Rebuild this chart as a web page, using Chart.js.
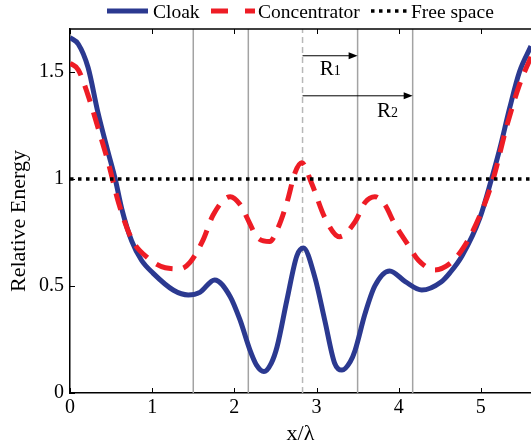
<!DOCTYPE html>
<html><head><meta charset="utf-8">
<script src="https://cdn.jsdelivr.net/npm/chart.js@4.4.1/dist/chart.umd.min.js"></script>
<style>html,body{margin:0;padding:0;background:#fff;}#wrap{width:531px;height:447px;}</style>
</head><body><div id="wrap"><canvas id="c" width="531" height="447"></canvas></div>
<script>
// ---- data ----
const seriesNames = ['Cloak', 'Concentrator', 'Free space'];
const cloakX = [0, 0.10, 0.22, 0.34, 0.46, 0.55, 0.63, 0.75, 0.87, 1.01, 1.26, 1.44, 1.58, 1.76, 1.95, 2.07, 2.19, 2.27, 2.36, 2.45, 2.52, 2.64, 2.76, 2.84, 2.98, 3.10, 3.22, 3.31, 3.41, 3.47, 3.59, 3.71, 3.89, 4.08, 4.28, 4.52, 4.62, 4.77, 4.99, 5.13, 5.23, 5.35, 5.47, 5.61];
const cloakY = [1.66, 1.63, 1.52, 1.31, 1.13, 1.00, 0.86, 0.71, 0.62, 0.56, 0.48, 0.458, 0.47, 0.528, 0.45, 0.34, 0.20, 0.13, 0.10, 0.14, 0.216, 0.435, 0.64, 0.677, 0.54, 0.34, 0.14, 0.107, 0.146, 0.20, 0.37, 0.50, 0.57, 0.52, 0.481, 0.52, 0.56, 0.64, 0.82, 1.00, 1.14, 1.33, 1.50, 1.62];
const concX = [0, 0.10, 0.22, 0.34, 0.47, 0.59, 0.75, 0.95, 1.16, 1.34, 1.46, 1.62, 1.74, 1.95, 2.07, 2.19, 2.27, 2.43, 2.53, 2.64, 2.74, 2.82, 2.94, 3.10, 3.28, 3.47, 3.59, 3.71, 3.83, 3.95, 4.10, 4.24, 4.44, 4.64, 4.79, 4.99, 5.15, 5.31, 5.47, 5.61];
const concY = [1.54, 1.51, 1.39, 1.24, 1.07, 0.89, 0.72, 0.63, 0.585, 0.58, 0.61, 0.715, 0.83, 0.917, 0.88, 0.79, 0.73, 0.707, 0.77, 0.89, 1.03, 1.075, 0.98, 0.82, 0.73, 0.80, 0.89, 0.917, 0.88, 0.79, 0.70, 0.62, 0.575, 0.61, 0.68, 0.83, 1.00, 1.24, 1.44, 1.57];
const freeX = [0, 5.61];
const freeY = [1, 1];
const xTicks = [0, 1, 2, 3, 4, 5];
const yTicks = [0, 0.5, 1, 1.5];
const xRange = [0, 5.61];
const yRange = [0, 1.7];
const boundaryX = [1.50, 2.17, 3.50, 4.17];
const centerX = 2.83;
const arrowEndX = [3.50, 4.17];
const arrowY = [1.575, 1.388];
const arrowMain = ['R', 'R'];
const arrowSub = ['1', '2'];
const arrowLabelX = [3.04, 3.735];
const arrowLabelY = [1.486, 1.29];
const xTitle = 'x/λ';
const yTitle = 'Relative Energy';

const pts = (xs, ys) => xs.map((x, i) => ({x: x, y: ys[i]}));
const SERIF = '"Liberation Serif", "DejaVu Serif", serif';

const datasets = [
  {label: seriesNames[2], data: pts(freeX, freeY), borderColor: '#000000', borderWidth: 3.5, borderDash: [3.5, 4.5], order: 0},
  {label: seriesNames[1], data: pts(concX, concY), borderColor: '#ee1c25', borderWidth: 5, borderDash: [17, 11], cubicInterpolationMode: 'monotone', order: 1},
  {label: seriesNames[0], data: pts(cloakX, cloakY), borderColor: '#2b3990', borderWidth: 5, cubicInterpolationMode: 'monotone', order: 2}
];
boundaryX.forEach(v => datasets.push({label: '_b', data: pts([v, v], yRange), borderColor: '#a3a3a3', borderWidth: 1.5, order: 3}));
datasets.push({label: '_c', data: pts([centerX, centerX], yRange), borderColor: '#b8b8b8', borderWidth: 1.5, borderDash: [6, 4], order: 3});
datasets.forEach(d => { d.pointRadius = 0; d.fill = false; });

const legendLayout = [
  {name: seriesNames[0], x0: 107, w: 41, tx: 153},
  {name: seriesNames[1], x0: 211, w: 44, tx: 258, dash: [17, 17]},
  {name: seriesNames[2], x0: 371, w: 37, tx: 411}
];

const decor = {
  id: 'decor',
  afterDraw(chart) {
    const ctx = chart.ctx, a = chart.chartArea;
    const xs = chart.scales.x, ys = chart.scales.y;
    ctx.save();
    // top border
    ctx.strokeStyle = '#000'; ctx.lineWidth = 1.5;
    ctx.beginPath(); ctx.moveTo(a.left - 0.75, a.top); ctx.lineTo(a.right, a.top); ctx.stroke();
    // inward ticks
    ctx.lineWidth = 1;
    xs.ticks.forEach(t => {
      const px = Math.round(xs.getPixelForValue(t.value)) + 0.5;
      ctx.beginPath(); ctx.moveTo(px, a.bottom); ctx.lineTo(px, a.bottom - 5);
      ctx.moveTo(px, a.top); ctx.lineTo(px, a.top + 5); ctx.stroke();
    });
    ys.ticks.forEach(t => {
      const py = Math.round(ys.getPixelForValue(t.value)) + 0.5;
      ctx.beginPath(); ctx.moveTo(a.left, py); ctx.lineTo(a.left + 5, py); ctx.stroke();
    });
    // arrows
    const x0 = xs.getPixelForValue(centerX);
    arrowEndX.forEach((ex, i) => {
      const x1 = xs.getPixelForValue(ex), y = ys.getPixelForValue(arrowY[i]);
      ctx.strokeStyle = '#000'; ctx.fillStyle = '#000'; ctx.lineWidth = 1;
      ctx.beginPath(); ctx.moveTo(x0, y); ctx.lineTo(x1 - 8, y); ctx.stroke();
      ctx.beginPath(); ctx.moveTo(x1, y); ctx.lineTo(x1 - 9, y - 3.5); ctx.lineTo(x1 - 9, y + 3.5); ctx.closePath(); ctx.fill();
      const lx = xs.getPixelForValue(arrowLabelX[i]), ly = ys.getPixelForValue(arrowLabelY[i]);
      ctx.textBaseline = 'alphabetic'; ctx.textAlign = 'left';
      ctx.font = '21px ' + SERIF;
      ctx.fillText(arrowMain[i], lx, ly);
      const w = ctx.measureText(arrowMain[i]).width;
      ctx.font = '14px ' + SERIF;
      ctx.fillText(arrowSub[i], lx + w, ly);
    });
    // y title
    ctx.save();
    ctx.translate(19, (a.top + a.bottom) / 2 + 10);
    ctx.rotate(-Math.PI / 2);
    ctx.font = '22px ' + SERIF; ctx.fillStyle = '#000';
    ctx.textAlign = 'center'; ctx.textBaseline = 'middle';
    ctx.fillText(yTitle, 0, 0);
    ctx.restore();
    // legend
    legendLayout.forEach(item => {
      const ds = chart.data.datasets.find(d => d.label === item.name);
      ctx.strokeStyle = ds.borderColor; ctx.lineWidth = ds.borderWidth;
      ctx.setLineDash(item.dash || ds.borderDash || []);
      ctx.beginPath(); ctx.moveTo(item.x0, 11); ctx.lineTo(item.x0 + item.w, 11); ctx.stroke();
      ctx.setLineDash([]);
      ctx.fillStyle = '#000'; ctx.font = '19.5px ' + SERIF;
      ctx.textAlign = 'left'; ctx.textBaseline = 'alphabetic';
      ctx.fillText(item.name, item.tx, 18);
    });
    ctx.restore();
  }
};

new Chart(document.getElementById('c'), {
  type: 'line',
  data: {datasets: datasets},
  options: {
    responsive: false, animation: false, devicePixelRatio: 1,
    layout: {padding: {top: 29, left: 0, right: 0, bottom: 0}},
    plugins: {legend: {display: false}, tooltip: {enabled: false}},
    scales: {
      x: {
        type: 'linear', min: xRange[0], max: xRange[1],
        afterFit: s => { s.height = 54; },
        afterBuildTicks: s => { s.ticks = xTicks.map(v => ({value: v})); },
        ticks: {color: '#000', font: {family: SERIF, size: 20}, padding: 3, maxRotation: 0, autoSkip: false, callback: v => String(v)},
        grid: {display: true, drawOnChartArea: false, drawTicks: false},
        border: {display: true, color: '#000', width: 1.5},
        title: {display: true, text: xTitle, color: '#000', font: {family: SERIF, size: 22}, padding: 0}
      },
      y: {
        type: 'linear', min: yRange[0], max: yRange[1],
        afterFit: s => { s.width = 70; },
        afterBuildTicks: s => { s.ticks = yTicks.map(v => ({value: v})); },
        ticks: {color: '#000', font: {family: SERIF, size: 20}, padding: 6, callback: v => String(v)},
        grid: {display: true, drawOnChartArea: false, drawTicks: false},
        border: {display: true, color: '#000', width: 1.5}
      }
    }
  },
  plugins: [decor]
});
</script></body></html>
